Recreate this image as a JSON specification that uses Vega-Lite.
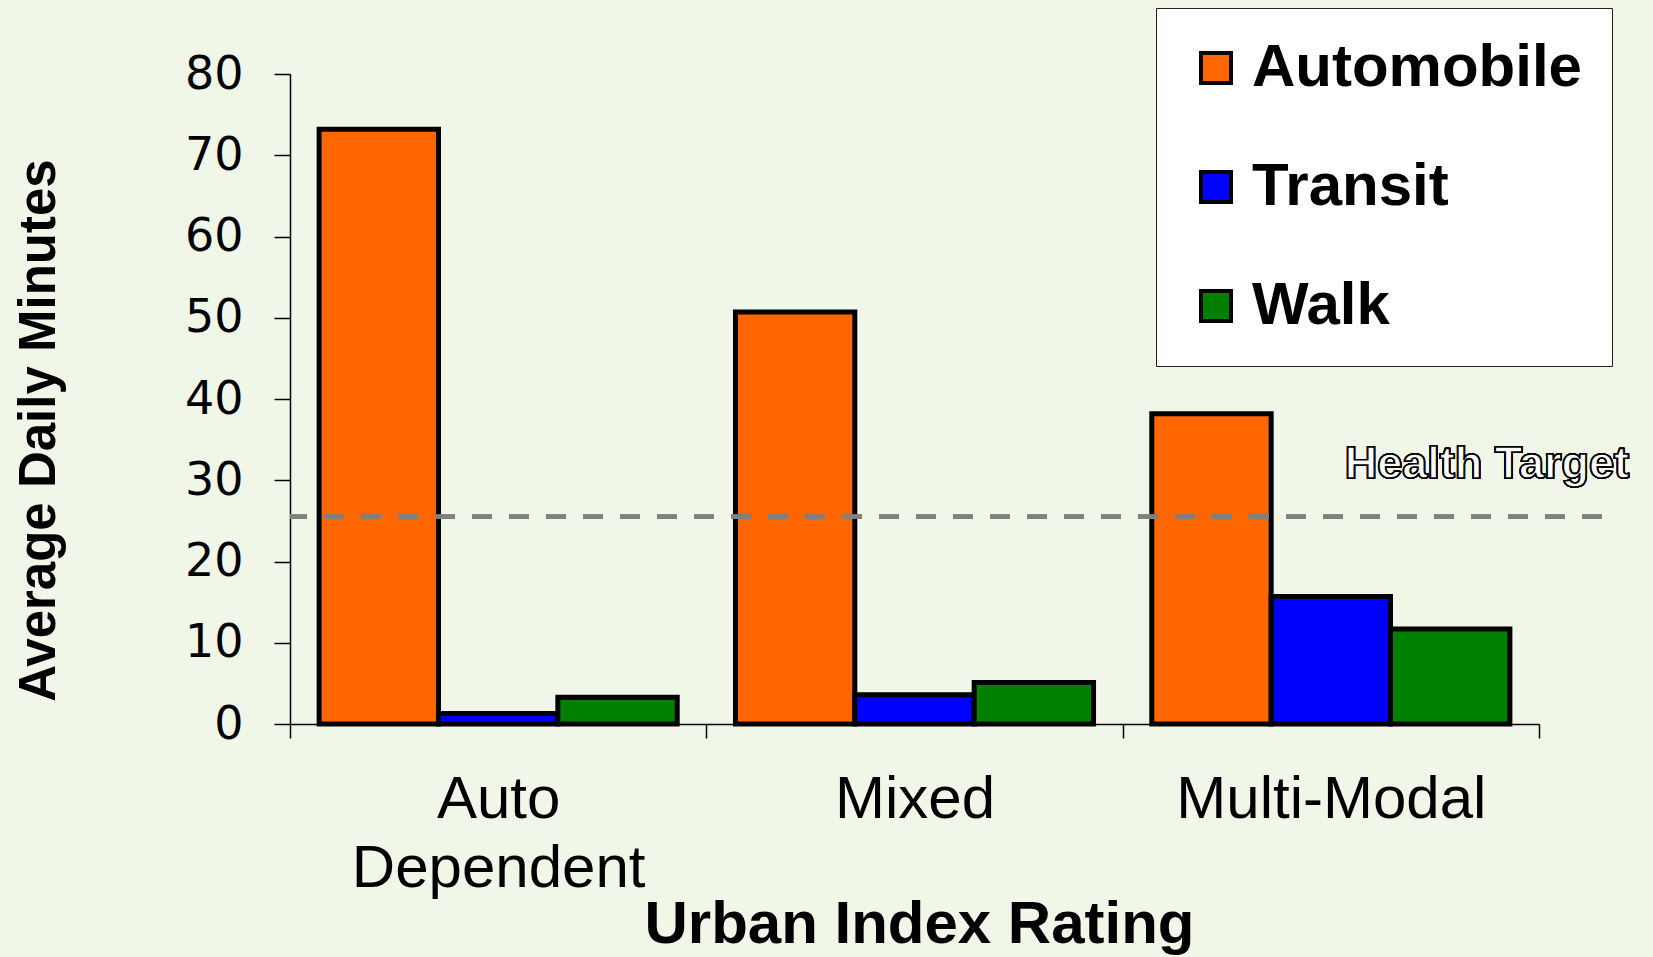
{
  "$schema": "https://vega.github.io/schema/vega-lite/v6.json",
  "width": 1312,
  "height": 650,
  "autosize": {"type": "none"},
  "padding": {"left": 290, "top": 74, "right": 51, "bottom": 233},
  "background": "#F0F7E8",
  "config": {"view": {"stroke": null}},
  "data": {"values": [
    {"rating": "Auto Dependent", "mode": "Automobile", "minutes": 73.2},
    {"rating": "Auto Dependent", "mode": "Transit", "minutes": 1.3},
    {"rating": "Auto Dependent", "mode": "Walk", "minutes": 3.3},
    {"rating": "Mixed", "mode": "Automobile", "minutes": 50.7},
    {"rating": "Mixed", "mode": "Transit", "minutes": 3.6},
    {"rating": "Mixed", "mode": "Walk", "minutes": 5.1},
    {"rating": "Multi-Modal", "mode": "Automobile", "minutes": 38.2},
    {"rating": "Multi-Modal", "mode": "Transit", "minutes": 15.7},
    {"rating": "Multi-Modal", "mode": "Walk", "minutes": 11.7}
  ]},
  "layer": [
    {
      "mark": {"type": "bar", "stroke": "black", "strokeWidth": 5, "strokeJoin": "miter"},
      "encoding": {
        "x": {
          "field": "rating", "type": "nominal", "sort": ["Auto Dependent", "Mixed", "Multi-Modal"],
          "scale": {"range": [0, 1249], "paddingInner": 0, "paddingOuter": 0},
          "axis": {
            "title": "Urban Index Rating",
            "titleFont": "Liberation Sans", "titleFontSize": 60, "titleFontWeight": "bold", "titleColor": "black",
            "titleBaseline": "alphabetic", "titleY": 218, "titleX": 629, "titleAlign": "center",
            "labelAngle": 0, "labelFont": "Liberation Sans", "labelFontSize": 60, "labelColor": "black",
            "labelBaseline": "alphabetic", "labelPadding": 79, "labelLineHeight": 69, "labelLimit": 600,
            "labelExpr": "datum.value == 'Auto Dependent' ? ['Auto', 'Dependent'] : datum.value",
            "tickBand": "extent", "tickSize": 14, "tickColor": "black", "tickWidth": 1.5,
            "domainColor": "black", "domainWidth": 1.5, "grid": false
          }
        },
        "xOffset": {"field": "mode", "type": "nominal", "sort": ["Automobile", "Transit", "Walk"],
          "scale": {"paddingInner": 0, "paddingOuter": 0.244}},
        "y": {
          "field": "minutes", "type": "quantitative",
          "scale": {"domain": [0, 80], "nice": false},
          "axis": {
            "title": "Average Daily Minutes", "values": [0, 10, 20, 30, 40, 50, 60, 70, 80],
            "titleFont": "Liberation Sans", "titleFontSize": 51, "titleFontWeight": "bold", "titleColor": "black",
            "titleAngle": -90, "titleX": -251, "titleY": 356, "titleAlign": "center", "titleBaseline": "middle",
            "labelFont": "DejaVu Sans", "labelFontSize": 46, "labelColor": "black", "labelPadding": 31,
            "tickSize": 16, "tickColor": "black", "tickWidth": 1.5,
            "domainColor": "black", "domainWidth": 1.5, "grid": false
          }
        },
        "color": {
          "field": "mode", "type": "nominal",
          "scale": {"domain": ["Automobile", "Transit", "Walk"], "range": ["#FF6600", "#0000FF", "#008000"]},
          "legend": {
            "title": null, "orient": "none", "legendX": 866, "legendY": -66,
            "fillColor": "white", "strokeColor": "#222222", "padding": 30,
            "symbolType": "square", "symbolSize": 900, "symbolStrokeWidth": 4, "symbolStrokeColor": "black", "symbolOpacity": 1,
            "labelFont": "Liberation Sans", "labelFontSize": 60, "labelFontWeight": "bold", "labelColor": "black",
            "labelOffset": 6, "rowPadding": 59, "labelLimit": 600
          }
        }
      }
    },
    {
      "mark": {"type": "rule", "color": "#808080", "strokeWidth": 4, "strokeDash": [20, 17]},
      "encoding": {"y": {"datum": 25.5, "type": "quantitative"}}
    },
    {
      "mark": {"type": "text", "text": "Health Target", "font": "Liberation Sans", "fontWeight": "bold", "fontSize": 45,
        "fill": "white", "stroke": "black", "strokeWidth": 1.5, "align": "right", "baseline": "alphabetic", "dx": 90, "dy": -39},
      "encoding": {
        "x": {"datum": "Multi-Modal", "type": "nominal", "bandPosition": 1},
        "y": {"datum": 25.5, "type": "quantitative"}
      }
    }
  ]
}
